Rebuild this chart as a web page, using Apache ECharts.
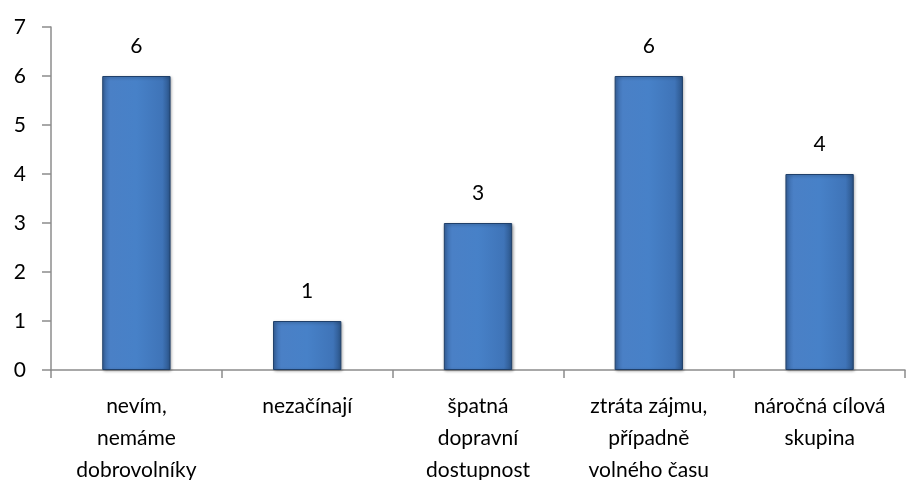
<!DOCTYPE html>
<html>
<head>
<meta charset="utf-8">
<script src="https://cdn.jsdelivr.net/npm/echarts@6/dist/echarts.min.js"></script>
<style>
    html, body { margin: 0; padding: 0; background: #fff; }
    #chart { width: 907px; height: 480px; }
</style>
</head>
<body>
<div id="chart"></div>
<script>
    var categories = ['nevím,\nnemáme\ndobrovolníky', 'nezačínají', 'špatná\ndopravní\ndostupnost', 'ztráta zájmu,\npřípadně\nvolného času', 'náročná cílová\nskupina'];
    var values = [6, 1, 3, 6, 4];
    var yTicks = [0, 1, 2, 3, 4, 5, 6, 7];

    var font = 'Lato, "Open Sans", sans-serif';
    var myChart = echarts.init(document.getElementById('chart'));
    var option = {
        animation: false,
        grid: {
            top: 27,
            left: 51,
            right: 2,
            bottom: 110,
            outerBoundsMode: 'none'
        },
        xAxis: {
            type: 'category',
            data: categories,
            axisLine: {
                lineStyle: { color: '#8c8c8c', width: 1.5 }
            },
            axisTick: {       // ticks between categories
                show: true,
                length: 8,
                lineStyle: { color: '#8c8c8c', width: 1.5 }
            },
            axisLabel: {
                interval: 0,
                margin: 20,
                color: '#000',
                fontFamily: font,
                fontSize: 21,
                lineHeight: 32,
                align: 'center'
            }
        },
        yAxis: {
            type: 'value',
            min: yTicks[0],
            max: yTicks[yTicks.length - 1],
            interval: 1,
            splitLine: { show: false },
            axisLine: {
                show: true,
                lineStyle: { color: '#8c8c8c', width: 1.5 }
            },
            axisTick: {
                show: true,
                length: 9,
                lineStyle: { color: '#8c8c8c', width: 1.5 }
            },
            axisLabel: {
                margin: 25,
                color: '#000',
                fontFamily: font,
                fontSize: 21
            }
        },
        series: [
            {
                type: 'bar',
                data: values,
                barWidth: '40%',
                itemStyle: {
                    color: new echarts.graphic.LinearGradient(0, 0, 1, 0, [
                        { offset: 0, color: '#3a68a6' },
                        { offset: 0.12, color: '#4a80c6' },
                        { offset: 0.5, color: '#4781c8' },
                        { offset: 0.88, color: '#3f74b8' },
                        { offset: 1, color: '#2b5488' }
                    ]),
                    borderColor: '#20406a',
                    borderWidth: 1,
                    shadowColor: 'rgba(0,0,0,0.35)',
                    shadowBlur: 3,
                    shadowOffsetX: 1,
                    shadowOffsetY: 1
                },
                label: {
                    show: true,
                    position: 'top',
                    distance: 19,
                    color: '#000',
                    fontFamily: font,
                    fontSize: 21
                }
            }
        ]
    };
    myChart.setOption(option, true);
</script>
</body>
</html>
